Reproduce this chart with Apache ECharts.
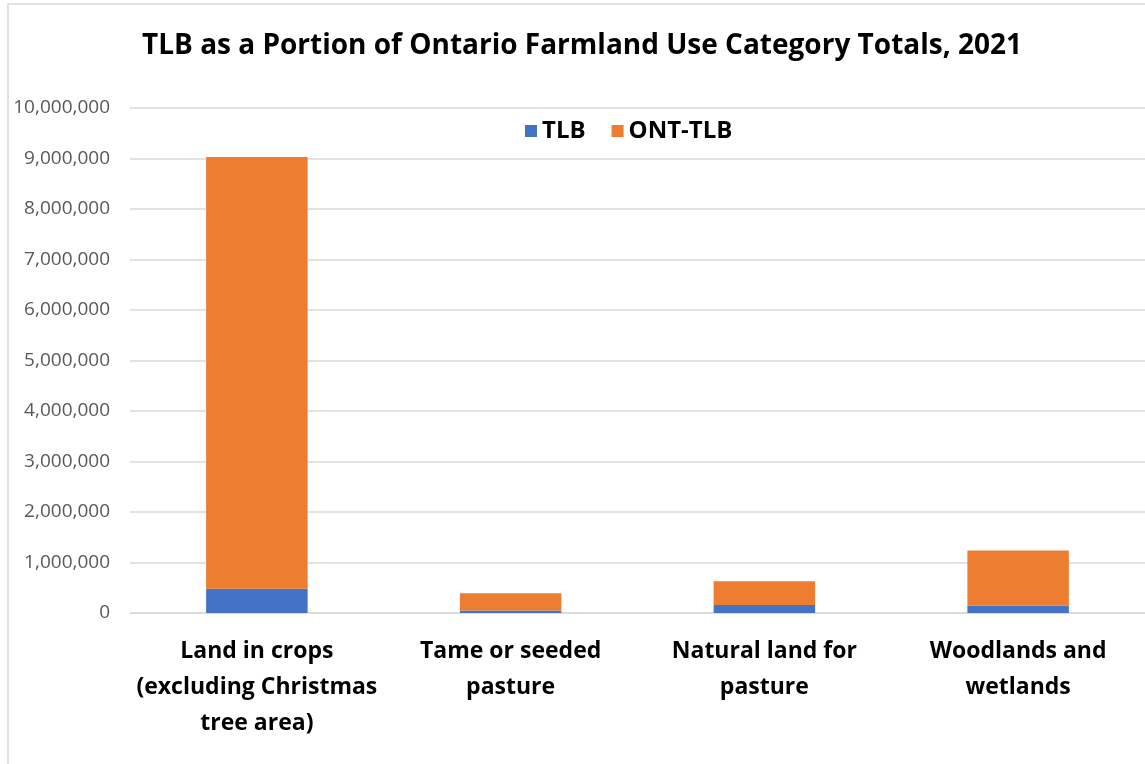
<!DOCTYPE html>
<html>
<head>
<meta charset="utf-8">
<script src="https://cdn.jsdelivr.net/npm/echarts@6/dist/echarts.min.js"></script>
<style>
  html, body { margin: 0; padding: 0; background: #fff; }
  #main { width: 1145px; height: 764px; }
</style>
</head>
<body>
<div id="main"></div>
<script>
// data (acres)
const categories = [
  'Land in crops\n(excluding Christmas\ntree area)',
  'Tame or seeded\npasture',
  'Natural land for\npasture',
  'Woodlands and\nwetlands'
]
const tlb = [480000, 50000, 160000, 150000]
const ontMinusTlb = [8550000, 340000, 470000, 1090000]
const yTicks = { min: 0, max: 10000000, interval: 1000000 }

const chart = echarts.init(document.getElementById('main'))

const labelFont = "'Open Sans', sans-serif"

chart.setOption({
  animation: false,
  backgroundColor: '#fff',
  graphic: [
    {
      type: 'rect',
      shape: { x: 8, y: 4, width: 1200, height: 800 },
      style: { fill: 'none', stroke: '#d9d9d9', lineWidth: 1.5 },
      silent: true
    }
  ],
  title: {
    text: 'TLB as a Portion of Ontario Farmland Use Category Totals, 2021',
    left: 577,
    top: 27,
    textAlign: 'center',
    textStyle: {
      fontFamily: labelFont,
      fontWeight: 'bold',
      fontSize: 28,
      color: '#000'
    }
  },
  legend: {
    data: ['TLB', 'ONT-TLB'],
    left: 520,
    top: 114,
    itemWidth: 12,
    itemHeight: 12,
    itemGap: 26,
    icon: 'rect',
    textStyle: {
      fontFamily: labelFont,
      fontWeight: 'bold',
      fontSize: 24,
      color: '#000'
    }
  },
  grid: {
    left: 130,
    right: 0,
    top: 108,
    bottom: 151,
    containLabel: false
  },
  xAxis: {
    type: 'category',
    data: categories,
    axisLine: { lineStyle: { color: '#d9d9d9', width: 1.5 } },
    axisTick: { show: false },
    axisLabel: {
      interval: 0,
      margin: 20,
      lineHeight: 36,
      fontFamily: labelFont,
      fontWeight: 'bold',
      fontSize: 23,
      color: '#000'
    }
  },
  yAxis: {
    type: 'value',
    min: yTicks.min,
    max: yTicks.max,
    interval: yTicks.interval,
    axisLine: { show: false },
    axisTick: { show: false },
    splitLine: { lineStyle: { color: '#d9d9d9', width: 1.5 } },
    axisLabel: {
      margin: 20,
      fontFamily: labelFont,
      fontSize: 19,
      color: '#595959',
      formatter: v => v.toLocaleString('en-US')
    }
  },
  series: [
    {
      name: 'TLB',
      type: 'bar',
      stack: 'total',
      barWidth: '40%',
      itemStyle: { color: '#4472c4' },
      data: tlb
    },
    {
      name: 'ONT-TLB',
      type: 'bar',
      stack: 'total',
      barWidth: '40%',
      itemStyle: { color: '#ed7d31' },
      data: ontMinusTlb
    }
  ]
})
</script>
</body>
</html>
